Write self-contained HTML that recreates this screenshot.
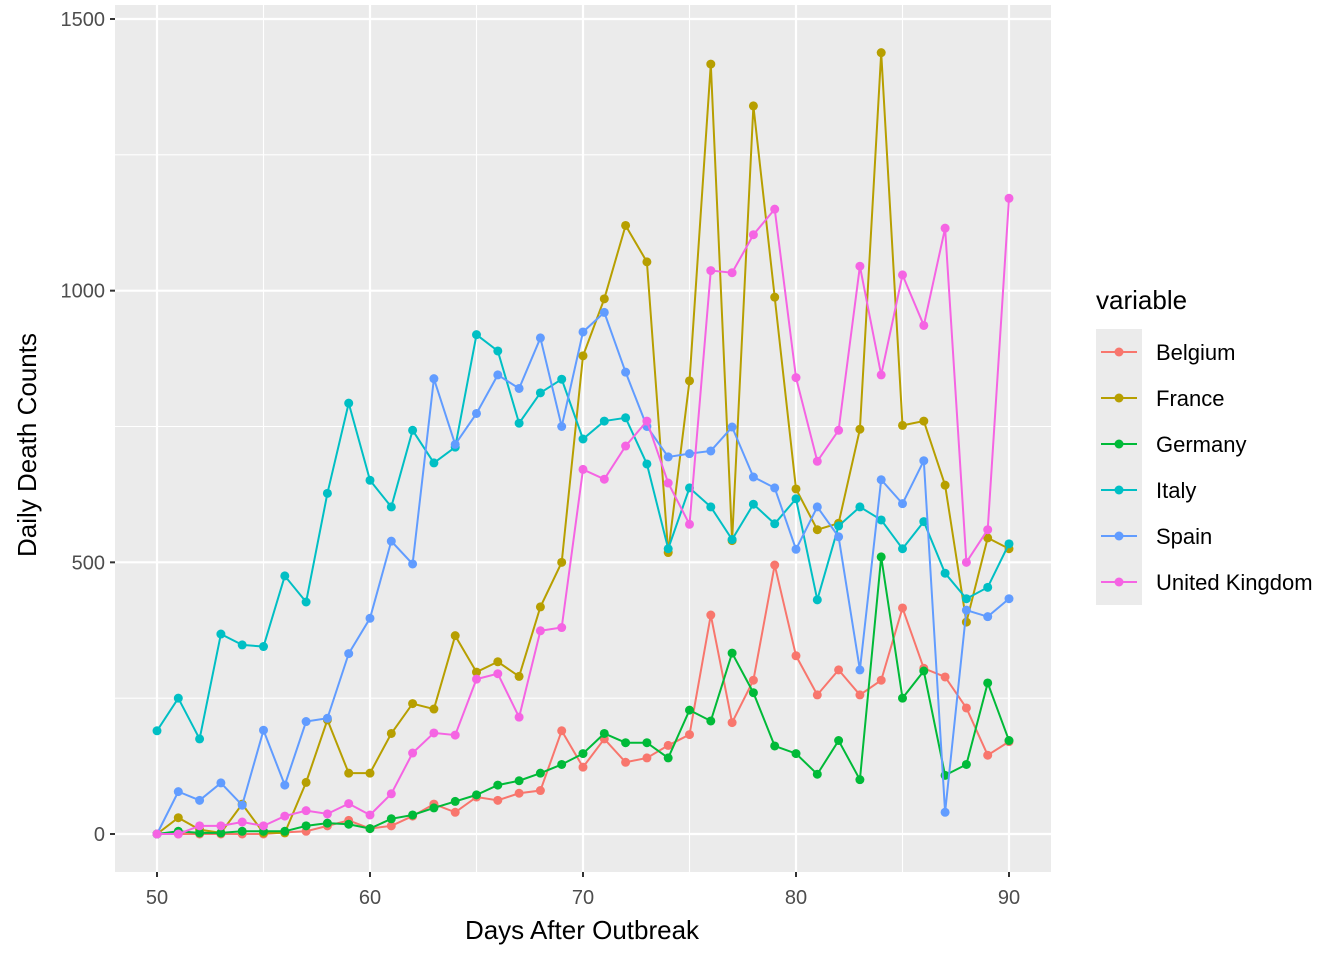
<!DOCTYPE html>
<html><head><meta charset="utf-8"><style>
body{margin:0;background:#fff;}
svg{display:block;font-family:"Liberation Sans",Arial,sans-serif;}
</style></head><body>
<svg id="chart" width="1344" height="960">
<rect x="0" y="0" width="1344" height="960" fill="#fff"/>
<rect x="115" y="5" width="936" height="867" fill="#ebebeb"/>
<g id="grid"></g>
<g id="series"></g>
<g id="axes"></g>
<text x="582" y="939" font-size="26" text-anchor="middle" fill="#000">Days After Outbreak</text>
<text transform="translate(36,445) rotate(-90)" font-size="26" text-anchor="middle" fill="#000">Daily Death Counts</text>
<g id="legend">
<text x="1096" y="309" font-size="26" fill="#000">variable</text>
</g>
</svg>
<script>
const days = [];
for (let d = 50; d <= 90; d++) days.push(d);
const seriesNames = ["Belgium","France","Germany","Italy","Spain","United Kingdom"];
const seriesColors = ["#F8766D","#B79F00","#00BA38","#00BFC4","#619CFF","#F564E3"];
const belgium = [0,0,0,0,0,0,3,5,15,25,10,15,33,55,40,68,62,75,80,190,123,175,132,140,163,183,403,205,283,495,328,256,302,256,283,416,305,289,232,145,170];
const france = [0,30,8,2,55,2,2,95,210,112,112,185,240,230,365,298,317,290,418,500,880,985,1120,1053,518,834,1417,540,1340,988,635,560,572,745,1438,752,760,642,390,545,525];
const germany = [0,5,2,2,5,5,5,15,20,18,10,28,35,48,60,72,90,98,112,128,148,185,168,168,140,228,208,333,260,162,148,110,172,100,510,250,300,108,128,278,172];
const italy = [190,250,175,368,348,345,475,427,627,793,651,602,743,683,712,919,889,756,812,837,727,760,766,681,525,637,602,542,607,571,617,431,567,602,578,525,575,480,433,454,534];
const spain = [0,78,62,94,53,191,90,207,213,332,397,539,497,838,717,774,845,820,913,750,924,960,850,750,694,700,705,749,657,637,524,602,547,302,652,608,687,40,412,400,433];
const uk = [0,0,15,15,22,15,33,43,37,56,35,74,149,186,182,285,295,215,374,380,671,653,714,760,646,570,1037,1033,1103,1150,840,686,743,1045,845,1029,936,1115,500,560,1170];
const allSeries = [belgium, france, germany, italy, spain, uk];
const xTicks = [50,60,70,80,90];
const yTicks = [0,500,1000,1500];
const xMinor = [55,65,75,85];
const yMinor = [250,750,1250];

const X = d => 157 + (d - 50) * (1009 - 157) / 40;
const Y = v => 834 - v * (834 - 19) / 1500;
const NS = "http://www.w3.org/2000/svg";
function mk(tag, attrs, parent) {
  const e = document.createElementNS(NS, tag);
  for (const k in attrs) e.setAttribute(k, attrs[k]);
  parent.appendChild(e);
  return e;
}
const grid = document.getElementById('grid');
const axes = document.getElementById('axes');
yMinor.forEach(v => {
  const l = mk('line', {x1:115, x2:1051, y1:Y(v), y2:Y(v), stroke:'#fff', 'stroke-width':1.1}, grid);
  
  
});
xMinor.forEach(d => {
  const l = mk('line', {x1:X(d), x2:X(d), y1:5, y2:872, stroke:'#fff', 'stroke-width':1.1}, grid);
  
  
});
yTicks.forEach(v => {
  const l = mk('line', {x1:115, x2:1051, y1:Y(v), y2:Y(v), stroke:'#fff', 'stroke-width':2.2}, grid);
  
  
  const t = mk('line', {x1:110, x2:115, y1:Y(v), y2:Y(v), stroke:'#333', 'stroke-width':2}, axes);
  
  
  const tx = mk('text', {x:105, y:Y(v)+7, 'font-size':20, 'text-anchor':'end', fill:'#4d4d4d'}, axes);
  tx.textContent = v;
  
  
});
xTicks.forEach(d => {
  const l = mk('line', {x1:X(d), x2:X(d), y1:5, y2:872, stroke:'#fff', 'stroke-width':2.2}, grid);
  
  
  const t = mk('line', {x1:X(d), x2:X(d), y1:872, y2:877, stroke:'#333', 'stroke-width':2}, axes);
  
  
  const tx = mk('text', {x:X(d), y:904, 'font-size':20, 'text-anchor':'middle', fill:'#4d4d4d'}, axes);
  tx.textContent = d;
  
  
});
const sg = document.getElementById('series');
allSeries.forEach((vals, i) => {
  const g = mk('g', {}, sg);
  
  
  const pts = vals.map((v, j) => X(days[j]) + ',' + Y(v)).join(' ');
  const pl = mk('polyline', {points:pts, fill:'none', stroke:seriesColors[i], 'stroke-width':2}, g);
  
  
  vals.forEach((v, j) => {
    const c = mk('circle', {cx:X(days[j]), cy:Y(v), r:4.5, fill:seriesColors[i]}, g);
    
    
  });
});
const lg = document.getElementById('legend');
seriesNames.forEach((n, i) => {
  const y = 352 + i * 46;
  const k = mk('rect', {x:1096, y:y-23, width:46, height:46, fill:'#ebebeb'}, lg);
  
  
  const l = mk('line', {x1:1101, x2:1137, y1:y, y2:y, stroke:seriesColors[i], 'stroke-width':2}, lg);
  
  
  const c = mk('circle', {cx:1119, cy:y, r:4.5, fill:seriesColors[i]}, lg);
  
  
  const t = mk('text', {x:1156, y:y+8, 'font-size':22, fill:'#000'}, lg);
  t.textContent = n;
  
  
});
</script>
</body></html>
